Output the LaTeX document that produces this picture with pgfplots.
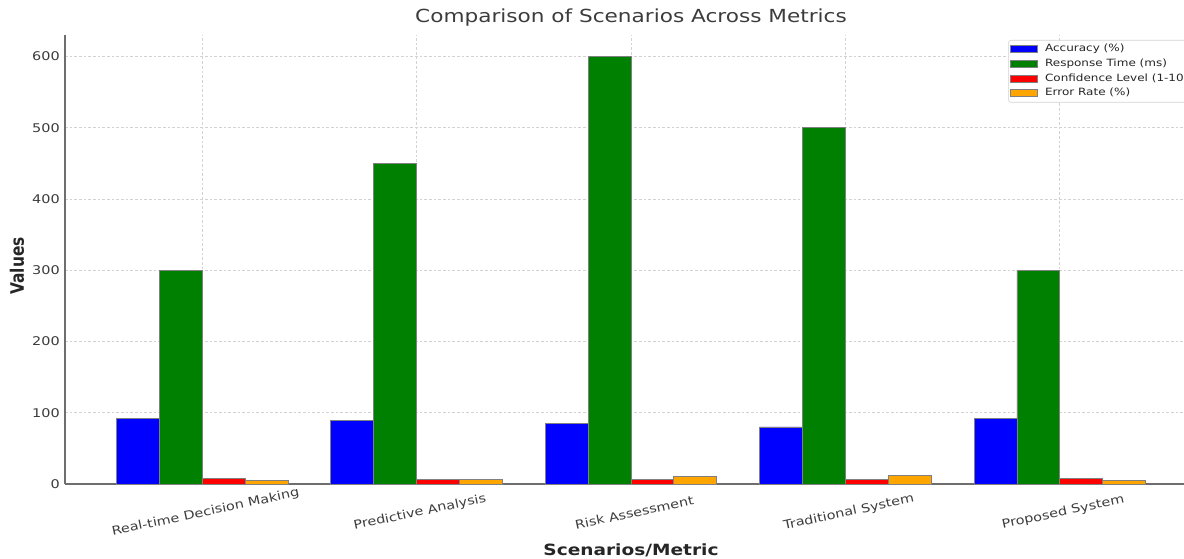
\documentclass[border=0pt]{standalone}
\usepackage{fontspec}
\setmainfont{DejaVu Sans}[FakeStretch=1.2]
\newfontfamily\ylabfont{DejaVu Sans}[FakeStretch=0.833]
\usepackage{pgfplots}
\pgfplotsset{compat=1.18}
\definecolor{barblue}{RGB}{0,0,255}
\definecolor{bargreen}{RGB}{0,128,0}
\definecolor{barred}{RGB}{255,0,0}
\definecolor{barorange}{RGB}{255,165,0}
\definecolor{edgec}{RGB}{128,128,128}
\definecolor{spinec}{RGB}{110,110,110}
\definecolor{gridc}{RGB}{210,210,210}
\definecolor{txtc}{RGB}{60,60,60}
\begin{document}
\begin{tikzpicture}
\begin{axis}[
  at={(0,0)}, anchor=south west,
  scale only axis, width=849pt, height=336.75pt,
  xmin=-0.64, xmax=4.64, ymin=0, ymax=630,
  axis x line*=bottom, axis y line*=left,
  axis line style={-, draw=spinec, line width=1.1pt},
  xtick={0,1,2,3,4},
  xticklabels={Real-time Decision Making, Predictive Analysis, Risk Assessment, Traditional System, Proposed System},
  ytick={0,100,200,300,400,500,600},
  major tick length=0pt,
  /pgf/number format/assume math mode=true,
  ticklabel style={font=\fontsize{9}{10}\selectfont, text=txtc},
  yticklabel style={inner xsep=0pt, xshift=-3.75pt},
  xticklabel style={rotate=12, anchor=center, yshift=-21.4pt, xshift=-2pt},
  grid=major,
  major grid style={gridc, dash pattern=on 2pt off 1.5pt, line width=0.5pt},
  ybar, bar width=0.2,
  title={Comparison of Scenarios Across Metrics},
  title style={font=\fontsize{13.5}{15}\selectfont, text=txtc, at={(axis description cs:0.5,1)}, anchor=base, yshift=3.75pt},
  xlabel={Scenarios/Metric},
  xlabel style={font=\fontsize{11.6}{13}\selectfont\bfseries, text=black!85, at={(axis description cs:0.5,0)}, anchor=base, yshift=-53.25pt},
  ylabel={Values},
  ylabel style={font=\ylabfont\fontsize{13.9}{15}\selectfont\bfseries, text=black!85, at={(axis description cs:0,0.4855)}, anchor=center, xshift=0pt, yshift=36pt},
  legend style={at={(axis description cs:0.9956,0.9889)}, anchor=north east,
    font=\fontsize{7.5}{9}\selectfont, text=black!85, draw=gridc, fill=white,
    rounded corners=2pt, inner xsep=1.5pt, inner ysep=2pt,
    nodes={inner sep=1pt, text height=5.7pt, text depth=1.8pt}, row sep=1.5pt,
    /tikz/every odd column/.append style={column sep=4.5pt}},
  legend cell align=left,
  legend image code/.code={\draw[#1, line width=0.5pt, sharp corners] (0pt,-2.6pt) rectangle (20pt,2.6pt);},
]
\addplot[fill=barblue, draw=edgec, line width=0.6pt, bar shift=-0.3] coordinates {(0,92) (1,89) (2,85) (3,80) (4,92)};
\addplot[fill=bargreen, draw=edgec, line width=0.6pt, bar shift=-0.1] coordinates {(0,300) (1,450) (2,600) (3,500) (4,300)};
\addplot[fill=barred, draw=edgec, line width=0.6pt, bar shift=0.1] coordinates {(0,8) (1,7) (2,6) (3,6) (4,8)};
\addplot[fill=barorange, draw=edgec, line width=0.6pt, bar shift=0.3] coordinates {(0,5) (1,7) (2,10) (3,12) (4,5)};
\legend{Accuracy (\%), Response Time (ms), Confidence Level (1-10), Error Rate (\%)}
\end{axis}
\pgfresetboundingbox
\path[use as bounding box] (-48.75pt,-55.5pt) rectangle (839.25pt,363pt);
\end{tikzpicture}
\end{document}
